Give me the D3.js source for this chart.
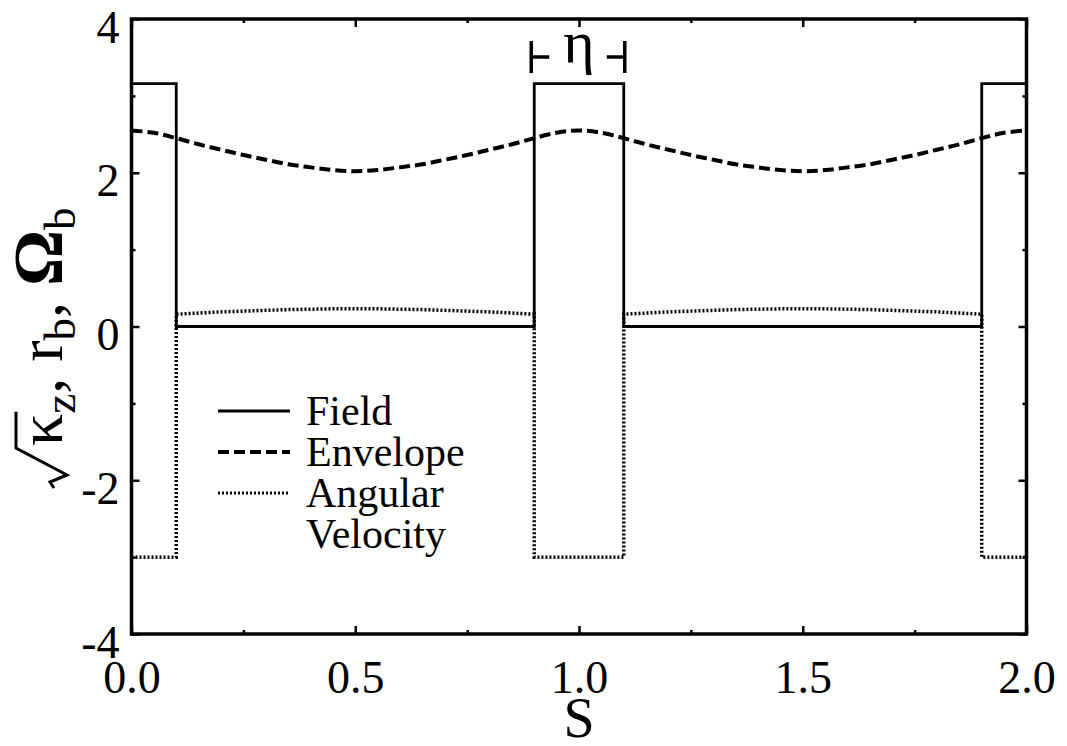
<!DOCTYPE html>
<html>
<head>
<meta charset="utf-8">
<script src="https://cdn.jsdelivr.net/npm/d3@7"></script>
<style>
body { margin: 0; background: #fff; }
</style>
</head>
<body>
<script>
var W = 1067, H = 746;
var serif = "'Liberation Serif', 'Times New Roman', serif";

// data
var fieldS = [0, 0.1, 0.1, 0.9, 0.9, 1.1, 1.1, 1.9, 1.9, 2.0];
var fieldV = [3.16, 3.16, 0, 0, 3.16, 3.16, 0, 0, 3.16, 3.16];

var envS = [0, 0.05, 0.1, 0.15, 0.2, 0.25, 0.3, 0.35, 0.4, 0.45, 0.5, 0.55, 0.6, 0.65, 0.7, 0.75, 0.8, 0.85, 0.9, 0.95,
            1.0, 1.05, 1.1, 1.15, 1.2, 1.25, 1.3, 1.35, 1.4, 1.45, 1.5, 1.55, 1.6, 1.65, 1.7, 1.75, 1.8, 1.85, 1.9, 1.95, 2.0];
var envV = [2.55, 2.52, 2.45, 2.37, 2.30, 2.23, 2.17, 2.11, 2.07, 2.035, 2.02, 2.035, 2.07, 2.11, 2.17, 2.23, 2.30, 2.37, 2.45, 2.52,
            2.55, 2.52, 2.45, 2.37, 2.30, 2.23, 2.17, 2.11, 2.07, 2.035, 2.02, 2.035, 2.07, 2.11, 2.17, 2.23, 2.30, 2.37, 2.45, 2.52, 2.55];

var angS = [0, 0.1, 0.1, 0.15, 0.2, 0.25, 0.3, 0.35, 0.4, 0.45, 0.5, 0.55, 0.6, 0.65, 0.7, 0.75, 0.8, 0.85, 0.9, 0.9,
            1.1, 1.1, 1.15, 1.2, 1.25, 1.3, 1.35, 1.4, 1.45, 1.5, 1.55, 1.6, 1.65, 1.7, 1.75, 1.8, 1.85, 1.9, 1.9, 2.0];
var angV = [-3.0, -3.0, 0.16, 0.175, 0.19, 0.20, 0.21, 0.22, 0.225, 0.23, 0.23, 0.23, 0.225, 0.22, 0.21, 0.20, 0.19, 0.175, 0.16, -3.0,
            -3.0, 0.16, 0.175, 0.19, 0.20, 0.21, 0.22, 0.225, 0.23, 0.23, 0.23, 0.225, 0.22, 0.21, 0.20, 0.19, 0.175, 0.16, -3.0, -3.0];

var xMajor = [0, 0.5, 1.0, 1.5, 2.0];
var xLabels = ["0.0", "0.5", "1.0", "1.5", "2.0"];
var xMinor = [0.25, 0.75, 1.25, 1.75];
var yMajor = [-4, -2, 0, 2, 4];
var yLabels = ["-4", "-2", "0", "2", "4"];
var yMinor = [-3, -1, 1, 3];

var legendNames = ["Field", "Envelope", "Angular"];

var pLeft = 131.5, pRight = 1026.5, pTop = 19, pBottom = 634;

var svg = d3.select("body").append("svg")
    .attr("width", W)
    .attr("height", H)
    .style("background", "#fff");

var x = d3.scaleLinear().domain([0, 2]).range([pLeft, pRight]);
var y = d3.scaleLinear().domain([-4, 4]).range([pBottom, pTop]);

function pts(s, v) { return s.map(function(d, i) { return [d, v[i]]; }); }

// axes, ticks pointing inward
svg.append("g").attr("transform", "translate(0," + pBottom + ")")
    .call(d3.axisBottom(x).tickValues(xMajor).tickSize(-8).tickPadding(26)
        .tickFormat(function(d, i) { return xLabels[i]; }));
svg.append("g").attr("transform", "translate(0," + pBottom + ")")
    .call(d3.axisBottom(x).tickValues(xMinor).tickSize(-4).tickFormat(""));
svg.append("g").attr("transform", "translate(0," + pTop + ")")
    .call(d3.axisTop(x).tickValues(xMajor).tickSize(-8).tickFormat(""));
svg.append("g").attr("transform", "translate(0," + pTop + ")")
    .call(d3.axisTop(x).tickValues(xMinor).tickSize(-4).tickFormat(""));

var lft = svg.append("g").attr("transform", "translate(" + pLeft + ",0)")
    .call(d3.axisLeft(y).tickValues(yMajor).tickSize(-8).tickPadding(12)
        .tickFormat(function(d, i) { return yLabels[i]; }));
svg.append("g").attr("transform", "translate(" + pLeft + ",0)")
    .call(d3.axisLeft(y).tickValues(yMinor).tickSize(-4).tickFormat(""));
svg.append("g").attr("transform", "translate(" + pRight + ",0)")
    .call(d3.axisRight(y).tickValues(yMajor).tickSize(-8).tickFormat(""));
svg.append("g").attr("transform", "translate(" + pRight + ",0)")
    .call(d3.axisRight(y).tickValues(yMinor).tickSize(-4).tickFormat(""));

svg.selectAll(".domain").remove();
svg.selectAll(".tick line").attr("stroke", "#000").attr("stroke-width", 2.5);
svg.selectAll(".tick text").attr("fill", "#000")
    .style("font-family", serif).style("font-size", "46px");
lft.selectAll(".tick text").attr("dy", "0.5em");

// curves
var line = d3.line().x(function(d) { return x(d[0]); }).y(function(d) { return y(d[1]); });

svg.append("path").datum(pts(fieldS, fieldV))
    .attr("d", line).attr("fill", "none").attr("stroke", "#000").attr("stroke-width", 2.8);

svg.append("path").datum(pts(envS, envV))
    .attr("d", line.curve(d3.curveCatmullRom)).attr("fill", "none").attr("stroke", "#000")
    .attr("stroke-width", 4).attr("stroke-dasharray", "11,5");
line.curve(d3.curveLinear);

svg.append("path").datum(pts(angS, angV))
    .attr("d", line).attr("fill", "none").attr("stroke", "#000")
    .attr("stroke-width", 3.5).attr("stroke-dasharray", "2,2");

// frame
svg.append("rect")
    .attr("x", pLeft).attr("y", pTop)
    .attr("width", pRight - pLeft).attr("height", pBottom - pTop)
    .attr("fill", "none").attr("stroke", "#000").attr("stroke-width", 3.5);

// eta marker over the middle pulse
var eta = svg.append("g");
var ey = 57;
eta.append("path")
    .attr("d", "M" + (x(0.9) - 3) + "," + (ey - 16) + "V" + (ey + 16) + "M" + (x(0.9) - 3) + "," + ey + "h18" +
               "M" + (x(1.1) + 1) + "," + (ey - 16) + "V" + (ey + 16) + "M" + (x(1.1) + 1) + "," + ey + "h-18")
    .attr("stroke", "#000").attr("stroke-width", 3.5).attr("fill", "none");
eta.append("text").attr("x", x(1.0)).attr("y", 62)
    .attr("text-anchor", "middle")
    .style("font-family", serif).style("font-size", "60px")
    .text("η");

// axis titles
svg.append("text").attr("x", x(1.0)).attr("y", 737)
    .attr("text-anchor", "middle")
    .style("font-family", serif).style("font-size", "56px")
    .text("S");

var yl = svg.append("g").attr("transform", "translate(62,490) rotate(-90)");
var yt = yl.append("text").attr("x", 44).attr("y", 0)
    .style("font-family", serif).style("font-size", "64px");
var k = yt.append("tspan").text("κ");
yt.append("tspan").attr("dy", 13).style("font-size", "45px").text("z");
yt.append("tspan").attr("dy", -13).text(", r");
yt.append("tspan").attr("dy", 13).style("font-size", "45px").text("b");
yt.append("tspan").attr("dy", -13).text(", ");
yt.append("tspan").style("font-weight", "bold").style("font-size", "70px").text("Ω");
yt.append("tspan").attr("dy", 13).style("font-size", "45px").text("b");
var kw = k.node().getComputedTextLength();
yl.append("path")
    .attr("d", "M2,-8 L8,-12 L15,5 L42,-46 H" + (44 + kw + 2))
    .attr("fill", "none").attr("stroke", "#000").attr("stroke-width", 3);

// legend
var lg = svg.append("g");
var lx0 = 218, lx1 = 290, ly0 = 411, dyL = 41;
var dashes = [null, "11,5", "2,2"];
var widths = [2.8, 4, 3];
legendNames.forEach(function(n, i) {
    var yy = ly0 + i * dyL;
    lg.append("line").attr("x1", lx0).attr("x2", lx1).attr("y1", yy).attr("y2", yy)
        .attr("stroke", "#000").attr("stroke-width", widths[i])
        .attr("stroke-dasharray", dashes[i]);
    lg.append("text").attr("x", 306).attr("y", yy + 14)
        .style("font-family", serif).style("font-size", "42px")
        .text(n);
});
lg.append("text").attr("x", 306).attr("y", ly0 + 3 * dyL + 14)
    .style("font-family", serif).style("font-size", "42px")
    .text("Velocity");
</script>
</body>
</html>
